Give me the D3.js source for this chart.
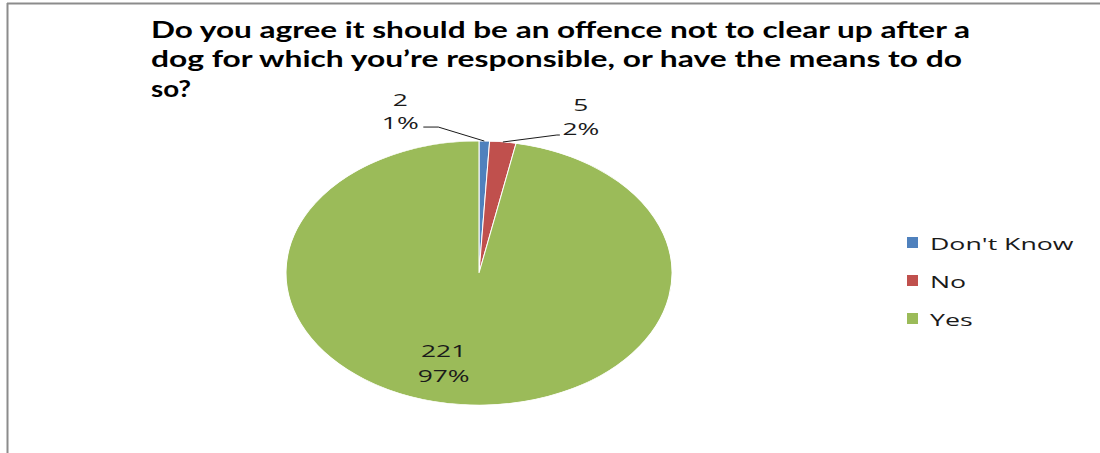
<!DOCTYPE html>
<html><head><meta charset="utf-8">
<script src="https://cdn.jsdelivr.net/npm/d3@7"></script>
<style>body{margin:0;background:#fff;} svg{display:block;}</style>
</head><body>
<svg id="c" width="1100" height="453"></svg>
<script>
const categories = ["Don't Know", "No", "Yes"];
const values = [2, 5, 221];
const percents = ["1%", "2%", "97%"];
const colors = ["#4F81BD", "#C0504D", "#9BBB59"];
const titleLines = [
  "Do you agree it should be an offence not to clear up after a",
  "dog for which you\u2019re responsible, or have the means to do",
  "so?"
];

const svg = d3.select("#c");
const W = 1100, H = 453;

// frame
svg.append("line").attr("x1",7).attr("x2",W).attr("y1",3.5).attr("y2",3.5).attr("stroke","#8c8c8c").attr("stroke-width",2);
svg.append("line").attr("x1",7.5).attr("x2",7.5).attr("y1",3).attr("y2",H).attr("stroke","#8c8c8c").attr("stroke-width",2);

// title
const titleWidths = [819, 811, 40];
titleLines.forEach((t,i)=>{
  svg.append("text").attr("x",151).attr("y",38+i*29.3)
    .attr("font-family","Lato,'Liberation Sans',Arial,sans-serif")
    .attr("font-weight","bold").attr("font-size",22.5).attr("fill","#000")
    .attr("textLength",titleWidths[i]).attr("lengthAdjust","spacingAndGlyphs")
    .text(t);
});

function stretchText(sel, k){
  sel.each(function(){
    const l = this.getComputedTextLength();
    d3.select(this).attr("textLength", l*k).attr("lengthAdjust","spacingAndGlyphs");
  });
}

// pie
const cx = 479, cy = 273, ry = 132, rx = 193;
const pie = d3.pie().sort(null).value(d=>d)(values);
const arc = d3.arc().innerRadius(0).outerRadius(ry);
const g = svg.append("g").attr("transform",`translate(${cx},${cy}) scale(${rx/ry},1)`);
g.selectAll("path").data(pie).join("path")
  .attr("d",arc).attr("fill",(d,i)=>colors[i])
  .attr("stroke","#fff").attr("stroke-width",0.7);

const xs = d3.scaleLinear().domain([-1,1]).range([cx-rx,cx+rx]);
const ys = d3.scaleLinear().domain([-1,1]).range([cy-ry,cy+ry]);
function pt(angle, r){ return [xs(r*Math.sin(angle)), ys(-r*Math.cos(angle))]; }

const font = "'Open Sans','DejaVu Sans',sans-serif";
const labelCfg = [
  {type:"out", elbow:[-46,-14], seg:-15, tx:-23, ty:[-21,2]},
  {type:"out", elbow:[54,-7], seg:3, tx:21, ty:[-24,0]},
  {type:"in", r:0.72, dx:-22, ty:[-11,14]}
];
pie.forEach((d,i)=>{
  const mid = (d.startAngle+d.endAngle)/2;
  const c = labelCfg[i];
  let lx, ly1, ly2;
  if(c.type==="out"){
    const p0 = pt(mid, 1);
    const p1 = [p0[0]+c.elbow[0], p0[1]+c.elbow[1]];
    const p2 = [p1[0]+c.seg, p1[1]];
    svg.append("polyline").attr("points",[p0,p1,p2].map(p=>p.join(",")).join(" "))
      .attr("fill","none").attr("stroke","#000").attr("stroke-width",0.9);
    lx = p2[0]+c.tx; ly1 = p2[1]+c.ty[0]; ly2 = p2[1]+c.ty[1];
  } else {
    const p = pt(mid, c.r);
    lx = p[0]+c.dx; ly1 = p[1]+c.ty[0]; ly2 = p[1]+c.ty[1];
  }
  const t = svg.append("g");
  [[String(values[i]), ly1],[percents[i], ly2]].forEach(([s,y])=>{
    t.append("text").attr("x",lx).attr("y",y).attr("text-anchor","middle")
      .attr("font-family",font).attr("font-size",17).attr("fill","#1a1a1a").text(s)
      .call(stretchText, 1.55);
  });
});

// legend
const lg = svg.append("g");
categories.forEach((c,i)=>{
  const y = 243 + i*38;
  lg.append("rect").attr("x",907).attr("y",y-6).attr("width",11).attr("height",11).attr("fill",colors[i]);
  lg.append("text").attr("x",930).attr("y",y+6.5).attr("font-family",font).attr("font-size",17)
    .attr("fill","#1a1a1a").text(c).call(stretchText, 1.57);
});
</script>
</body></html>
